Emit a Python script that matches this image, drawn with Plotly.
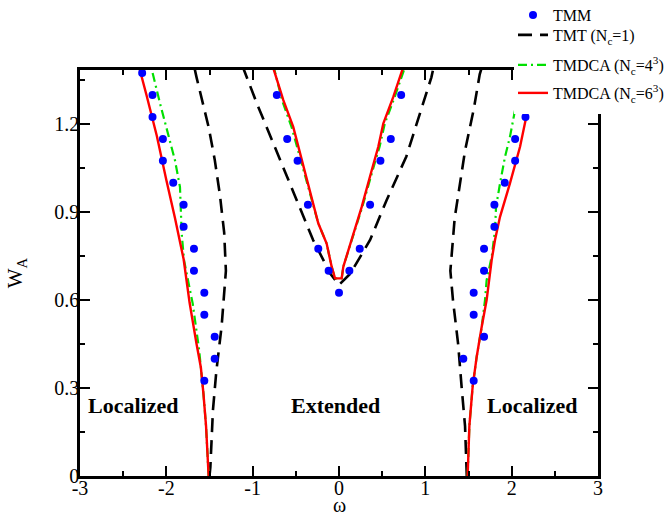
import plotly.graph_objects as go

# ---------------- data ----------------
# TMM points (omega, W_A)
tmm_omega = [-1.56, -1.44, -1.44, -1.56, -1.56, -1.68, -1.68, -1.80, -1.80, -1.92, -2.04, -2.04, -2.16, -2.16, -2.28,
             0.0, -0.12, 0.12, -0.24, 0.24, -0.36, 0.36, -0.48, 0.48, -0.60, 0.60, -0.72, 0.72,
             1.56, 1.44, 1.68, 1.56, 1.56, 1.68, 1.68, 1.80, 1.80, 1.92, 2.04, 2.04, 2.16]
tmm_w = [0.325, 0.40, 0.475, 0.55, 0.625, 0.70, 0.775, 0.85, 0.925, 1.00, 1.075, 1.15, 1.225, 1.30, 1.375,
         0.625, 0.70, 0.70, 0.775, 0.775, 0.925, 0.925, 1.075, 1.075, 1.15, 1.15, 1.30, 1.30,
         0.325, 0.40, 0.475, 0.55, 0.625, 0.70, 0.775, 0.85, 0.925, 1.00, 1.075, 1.15, 1.225]

# TMT (Nc=1)
tmt_left_w = [0, 0.03, 0.225, 0.36, 0.51, 0.70, 0.83, 0.96, 1.08, 1.19, 1.36, 1.40]
tmt_left_om = [-1.50, -1.49, -1.46, -1.42, -1.36, -1.31, -1.33, -1.38, -1.44, -1.51, -1.65, -1.68]
tmt_mid_w = [1.40, 1.27, 1.077, 0.94, 0.805, 0.69, 0.652, 0.69, 0.805, 0.94, 1.09, 1.36, 1.40]
tmt_mid_om = [-1.12, -0.95, -0.68, -0.49, -0.30, -0.10, 0.0, 0.13, 0.36, 0.55, 0.78, 1.07, 1.10]
tmt_right_w = [0, 0.17, 0.305, 0.45, 0.60, 0.70, 0.88, 1.00, 1.11, 1.25, 1.37, 1.40]
tmt_right_om = [1.48, 1.46, 1.42, 1.38, 1.32, 1.29, 1.34, 1.40, 1.46, 1.56, 1.63, 1.66]

# TMDCA (Nc=4^3)
c4_left_w = [0, 0.17, 0.28, 0.37, 0.43, 0.532, 0.589, 0.634, 0.691, 0.736, 0.827, 0.918, 0.986, 1.077, 1.18, 1.271, 1.40]
c4_left_om = [-1.51, -1.54, -1.57, -1.60, -1.62, -1.668, -1.695, -1.726, -1.765, -1.795, -1.822, -1.83, -1.842, -1.90, -1.996, -2.073, -2.18]
c4_mid_w = [1.40, 1.282, 1.191, 1.077, 0.964, 0.862, 0.793, 0.714, 0.674, 0.674, 0.714, 0.805, 0.918, 1.043, 1.123, 1.202, 1.293, 1.40]
c4_mid_om = [-0.76, -0.66, -0.55, -0.44, -0.34, -0.24, -0.143, -0.085, -0.046, 0.031, 0.05, 0.147, 0.27, 0.39, 0.47, 0.53, 0.645, 0.77]
c4_right_w = [0, 0.17, 0.305, 0.407, 0.509, 0.60, 0.668, 0.75, 0.839, 0.918, 0.998, 1.089, 1.157, 1.248]
c4_right_om = [1.49, 1.51, 1.548, 1.595, 1.653, 1.691, 1.71, 1.77, 1.807, 1.819, 1.865, 1.923, 1.98, 2.039]

# TMDCA (Nc=6^3)
c6_left_w = [0, 0.17, 0.28, 0.37, 0.45, 0.59, 0.74, 0.80, 0.88, 1.01, 1.16, 1.30, 1.40]
c6_left_om = [-1.51, -1.54, -1.57, -1.60, -1.65, -1.73, -1.80, -1.84, -1.90, -2.00, -2.11, -2.23, -2.32]
c6_mid_w = [1.40, 1.282, 1.191, 1.077, 0.964, 0.862, 0.793, 0.714, 0.674, 0.674, 0.714, 0.805, 0.918, 1.043, 1.123, 1.202, 1.293, 1.40]
c6_mid_om = [-0.77, -0.645, -0.53, -0.43, -0.336, -0.24, -0.143, -0.085, -0.046, 0.031, 0.05, 0.147, 0.263, 0.379, 0.455, 0.513, 0.629, 0.75]
c6_right_w = [0, 0.17, 0.305, 0.407, 0.509, 0.60, 0.736, 0.805, 0.884, 0.998, 1.123, 1.248]
c6_right_om = [1.49, 1.51, 1.548, 1.595, 1.653, 1.71, 1.768, 1.807, 1.865, 1.98, 2.097, 2.185]

x_ticks = [-3, -2, -1, 0, 1, 2, 3]
y_ticks = [0, 0.3, 0.6, 0.9, 1.2]
y_ticktext = ["0", "0.3", "0.6", "0.9", "1.2"]

region_labels = ["Localized", "Extended", "Localized"]
region_x = [-2.39, -0.035, 2.24]
region_y = [0.239, 0.239, 0.239]


def join(*branches):
    xs, ys = [], []
    for i in range(0, len(branches), 2):
        if xs:
            xs.append(None)
            ys.append(None)
        xs += list(branches[i])
        ys += list(branches[i + 1])
    return xs, ys


FONT = "Liberation Serif"
# plot area in pixels: left 80, right 598, top 70, bottom 476
PL, PR, PT, PB = 80, 598, 70, 476
PW, PH = PR - PL, PB - PT


def px_x(p):
    return (p - PL) / PW


def px_y(p):
    return (PB - p) / PH


fig = go.Figure()

x, y = join(tmt_left_om, tmt_left_w, tmt_mid_om, tmt_mid_w, tmt_right_om, tmt_right_w)
fig.add_trace(go.Scatter(x=x, y=y, mode="lines", name="TMT (N<sub>c</sub>=1)", legend="legend2",
                         line=dict(color="black", width=2.6, dash="14px,8px")))

x, y = join(c4_left_om, c4_left_w, c4_mid_om, c4_mid_w, c4_right_om, c4_right_w)
fig.add_trace(go.Scatter(x=x, y=y, mode="lines", name="TMDCA (N<sub>c</sub>=4<sup>3</sup>)", legend="legend3",
                         line=dict(color="#00e000", width=2.2, dash="9px,4px,2px,4px")))

x, y = join(c6_left_om, c6_left_w, c6_mid_om, c6_mid_w, c6_right_om, c6_right_w)
fig.add_trace(go.Scatter(x=x, y=y, mode="lines", name="TMDCA (N<sub>c</sub>=6<sup>3</sup>)", legend="legend4",
                         line=dict(color="#ff0000", width=2.4)))

fig.add_trace(go.Scatter(x=tmm_omega, y=tmm_w, mode="markers", name="TMM", legend="legend", showlegend=True,
                         marker=dict(color="#0000ff", size=8, line=dict(width=0))))

for t, xx, yy in zip(region_labels, region_x, region_y):
    fig.add_annotation(x=xx, y=yy, text="<b>%s</b>" % t, showarrow=False,
                       font=dict(family=FONT, size=22, color="black"))

# x-axis title placed as annotation below tick labels
fig.add_annotation(x=0, xref="x", y=px_y(505), yref="paper", text="ω", showarrow=False,
                   yanchor="middle", font=dict(family=FONT, size=20, color="black"))

# white box where the legend sits (covers the top-right corner of the frame)
fig.add_shape(type="rect", xref="paper", yref="paper", layer="above",
              x0=px_x(514), x1=px_x(700), y0=px_y(114), y1=px_y(-10),
              fillcolor="white", line=dict(width=0))

axis_common = dict(showline=True, linecolor="black", linewidth=2.5, mirror="allticks",
                   ticks="inside", ticklen=10, tickwidth=2, tickcolor="black",
                   showgrid=False, zeroline=False,
                   tickfont=dict(family=FONT, size=20, color="black"))

fig.update_xaxes(range=[-3, 3], tickvals=x_ticks, ticktext=[str(v) for v in x_ticks],
                 minor=dict(ticks="inside", ticklen=5, tickwidth=2, dtick=0.5, tick0=0, tickcolor="black", showgrid=False),
                 ticklabelstandoff=-8,
                 automargin=False, **axis_common)
fig.update_yaxes(range=[0, 1.385], tickvals=y_ticks, ticktext=y_ticktext,
                 minor=dict(ticks="inside", ticklen=5, tickwidth=2, dtick=0.15, tick0=0, tickcolor="black", showgrid=False),
                 ticklabelstandoff=-6,
                 title=dict(text="W<sub>A</sub>", font=dict(family=FONT, size=21), standoff=26),
                 automargin=False, **axis_common)

leg_common = dict(x=px_x(513), xanchor="left", yanchor="middle", bgcolor="rgba(0,0,0,0)", borderwidth=0,
                  font=dict(family=FONT, size=16, color="black"))
fig.update_layout(
    width=665, height=515,
    showlegend=True,
    margin=dict(l=PL, r=665 - PR, t=PT, b=515 - PB, autoexpand=False),
    paper_bgcolor="white", plot_bgcolor="white",
    font=dict(family=FONT, color="black"),
    legend=dict(y=px_y(15), **leg_common),
    legend2=dict(y=px_y(35), **leg_common),
    legend3=dict(y=px_y(65), **leg_common),
    legend4=dict(y=px_y(93), **leg_common),
)

fig.write_html("out.html")
